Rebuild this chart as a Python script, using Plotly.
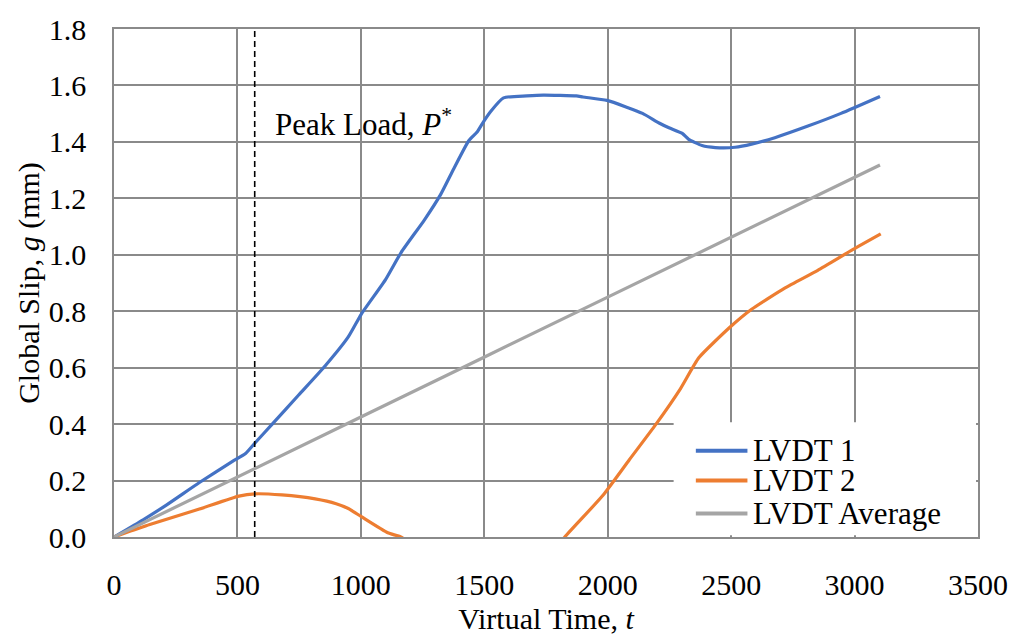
import plotly.graph_objects as go

# ---- data ----
t_lvdt1 = [0, 118, 212, 346, 480, 533, 571, 640, 748, 855, 949, 1002, 1100, 1163, 1257,
           1324, 1377, 1437, 1471, 1498, 1525, 1578, 1672, 1739, 1873, 1900, 1997, 2074,
           2141, 2208, 2248, 2302, 2328, 2382, 2436, 2516, 2583, 2677, 2811, 2945, 3103]
g_lvdt1 = [0.0, 0.061, 0.113, 0.193, 0.268, 0.296, 0.333, 0.399, 0.503, 0.606, 0.709, 0.790,
           0.912, 1.008, 1.123, 1.215, 1.306, 1.404, 1.435, 1.473, 1.507, 1.556, 1.563, 1.566,
           1.563, 1.559, 1.547, 1.524, 1.501, 1.467, 1.450, 1.430, 1.409, 1.387, 1.380, 1.381,
           1.392, 1.415, 1.456, 1.501, 1.561]

t_lvdt2 = [0, 145, 346, 506, 571, 680, 815, 900, 949, 1002, 1109, 1162, 1250, 1400, 1500,
           1600, 1700, 1800, 1826, 1980, 2087, 2195, 2295, 2369, 2496, 2583, 2717, 2851,
           2994, 3106]
g_lvdt2 = [0.0, 0.044, 0.099, 0.145, 0.153, 0.149, 0.135, 0.118, 0.101, 0.072, 0.015, 0.0,
           -0.05, -0.13, -0.20, -0.20, -0.12, -0.03, 0.0, 0.147, 0.273, 0.399, 0.526, 0.635,
           0.744, 0.807, 0.882, 0.945, 1.019, 1.074]

t_avg = [0, 1000, 2000, 3103]
g_avg = [0.0, 0.425, 0.850, 1.318]

series_names = ["LVDT 1", "LVDT 2", "LVDT Average"]
series_colors = ["#4472C4", "#ED7D31", "#A5A5A5"]

peak_t = 570
x_ticks = [0, 500, 1000, 1500, 2000, 2500, 3000, 3500]
y_ticks = [0.0, 0.2, 0.4, 0.6, 0.8, 1.0, 1.2, 1.4, 1.6, 1.8]

FONT = "Liberation Serif, Times New Roman, serif"
GRID = "#8a8a8a"

fig = go.Figure()
for xs, ys, nm, col in [(t_lvdt1, g_lvdt1, series_names[0], series_colors[0]),
                        (t_lvdt2, g_lvdt2, series_names[1], series_colors[1]),
                        (t_avg, g_avg, series_names[2], series_colors[2])]:
    fig.add_trace(go.Scatter(x=xs, y=ys, mode="lines", name=nm, showlegend=False,
                             line=dict(color=col, width=3.2, shape="spline", smoothing=0.5)))
fig.add_trace(go.Scatter(x=[peak_t, peak_t], y=[0, 1.8], mode="lines", showlegend=False,
                         line=dict(color="black", width=1.6, dash="6px,4px"),
                         hoverinfo="skip"))

fig.add_annotation(x=643, y=1.47, xref="x", yref="y", text="Peak Load, <i>P</i><sup>*</sup>",
                   showarrow=False, xanchor="left", yanchor="middle",
                   font=dict(family=FONT, size=31, color="black"))

# legend box (white panel in the lower-right corner of the plot)
fig.add_shape(type="rect", xref="x", yref="y", x0=2267, x1=3492, y0=0.006, y1=0.407,
              fillcolor="white", line=dict(width=0), layer="above")
legend_y = [0.306, 0.200, 0.083]
for nm, col, ly in zip(series_names, series_colors, legend_y):
    fig.add_shape(type="line", xref="x", yref="y", x0=2357, x1=2566, y0=ly, y1=ly,
                  line=dict(color=col, width=4), layer="above")
    fig.add_annotation(x=2580, y=ly, xref="x", yref="y", text=nm, showarrow=False,
                       xanchor="left", yanchor="middle",
                       font=dict(family=FONT, size=31, color="black"))

fig.update_layout(
    width=1020, height=642,
    margin=dict(l=114, r=34.5, t=23.3, b=96),
    paper_bgcolor="white", plot_bgcolor="white",
    font=dict(family=FONT, size=30, color="black"),
    showlegend=False,
)
fig.update_xaxes(range=[0, 3500], tickvals=x_ticks, ticktext=[str(v) for v in x_ticks],
                 tickfont=dict(family=FONT, size=30, color="black"),
                 showgrid=True, gridcolor=GRID, gridwidth=1.5,
                 showline=True, linecolor=GRID, linewidth=1.5, mirror=True,
                 zeroline=False, ticks="", ticklabelstandoff=20,
                 title=dict(text="Virtual Time, <i>t</i>", standoff=8,
                            font=dict(family=FONT, size=30, color="black")))
fig.update_yaxes(range=[0, 1.8], tickvals=y_ticks, ticktext=[f"{v:.1f}" for v in y_ticks],
                 tickfont=dict(family=FONT, size=30, color="black"),
                 showgrid=True, gridcolor=GRID, gridwidth=1.5,
                 showline=True, linecolor=GRID, linewidth=1.5, mirror=True,
                 zeroline=False, ticks="", ticklabelstandoff=20,
                 title=dict(text="Global Slip, <i>g</i> (mm)", standoff=0,
                            font=dict(family=FONT, size=30, color="black")))

fig.write_html("out.html")
